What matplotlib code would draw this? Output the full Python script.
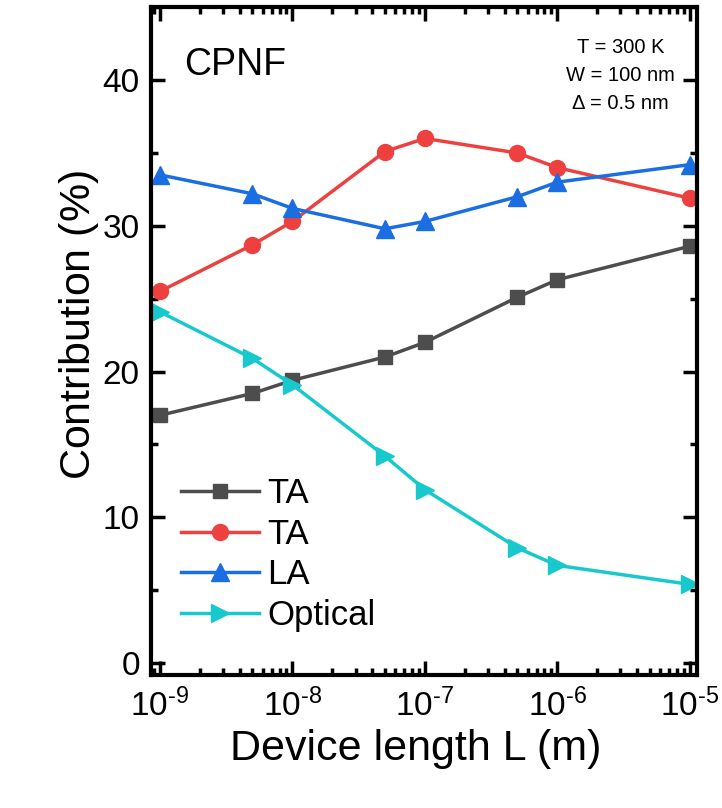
import matplotlib
matplotlib.use("Agg")
import matplotlib.pyplot as plt
from matplotlib.ticker import LogLocator, MultipleLocator, NullFormatter

plt.rcParams['font.family'] = ['Liberation Sans', 'DejaVu Sans']
plt.rcParams['mathtext.fontset'] = 'custom'
plt.rcParams['mathtext.rm'] = 'Liberation Sans'
plt.rcParams['mathtext.it'] = 'Liberation Sans:italic'

length = [1e-9, 5e-9, 1e-8, 5e-8, 1e-7, 5e-7, 1e-6, 1e-5]
ta_gray = [17.0, 18.5, 19.4, 21.0, 22.0, 25.1, 26.3, 28.6]
ta_red = [25.5, 28.7, 30.3, 35.1, 36.0, 35.0, 34.0, 31.9]
la_blue = [33.5, 32.2, 31.2, 29.8, 30.3, 32.0, 33.0, 34.2]
optical = [24.1, 20.9, 19.1, 14.2, 11.9, 7.9, 6.7, 5.4]
labels = ["TA", "TA", "LA", "Optical"]
xtick_vals = [1e-9, 1e-8, 1e-7, 1e-6, 1e-5]
xtick_labels = [r'10$^{\text{-9}}$', r'10$^{\text{-8}}$', r'10$^{\text{-7}}$',
                r'10$^{\text{-6}}$', r'10$^{\text{-5}}$']

fig = plt.figure(figsize=(7.22, 8.08), dpi=100)
ax = fig.add_axes([0.209, 0.165, 0.756, 0.826])

lw = 2.5
ax.plot(length, ta_gray, '-s', color='#4d4d4d', lw=lw, ms=10.5, label=labels[0])
ax.plot(length, ta_red, '-o', color='#ef4040', lw=lw, ms=11.5, label=labels[1])
ax.plot(length, la_blue, '-^', color='#1a6ee2', lw=lw, ms=12.5, label=labels[2])
ax.plot(length, optical, '->', color='#17c9cc', lw=lw, ms=12.5, label=labels[3])

ax.set_xscale('log')
ax.set_xlim(0.855e-9, 1.13e-5)
ax.set_ylim(-0.8, 45)
ax.xaxis.set_minor_locator(LogLocator(base=10, subs=range(2, 10), numticks=20))
ax.xaxis.set_minor_formatter(NullFormatter())
ax.yaxis.set_major_locator(MultipleLocator(10))
ax.yaxis.set_minor_locator(MultipleLocator(5))
ax.set_xticks(xtick_vals)
ax.set_xticklabels(xtick_labels)

for s in ax.spines.values():
    s.set_linewidth(3)
ax.tick_params(which='both', direction='in', top=True, right=True, width=2.5, labelsize=24)
ax.tick_params(axis='x', pad=10)
ax.tick_params(axis='y', pad=8)
ax.tick_params(which='major', length=10)
ax.tick_params(which='minor', length=5)

ax.set_xlabel('Device length L (m)', fontsize=31, labelpad=4, x=0.485)
ax.set_ylabel(r'Contribution $\mathit{(\%)}$', fontsize=31, labelpad=1, y=0.524)

ax.text(0.06, 0.913, 'CPNF', transform=ax.transAxes, fontsize=27, va='center', ha='left')
ax.text(0.86, 0.898, 'T = 300 K\nW = 100 nm\n\u0394 = 0.5 nm', transform=ax.transAxes,
        fontsize=14.5, va='center', ha='center', linespacing=1.6)

leg = ax.legend(loc='lower left', bbox_to_anchor=(-0.009, 0.012), frameon=False, fontsize=25,
                handlelength=2.25, handletextpad=0.25, labelspacing=0.22, borderaxespad=0.6)

fig.savefig('out.png', dpi=100)
